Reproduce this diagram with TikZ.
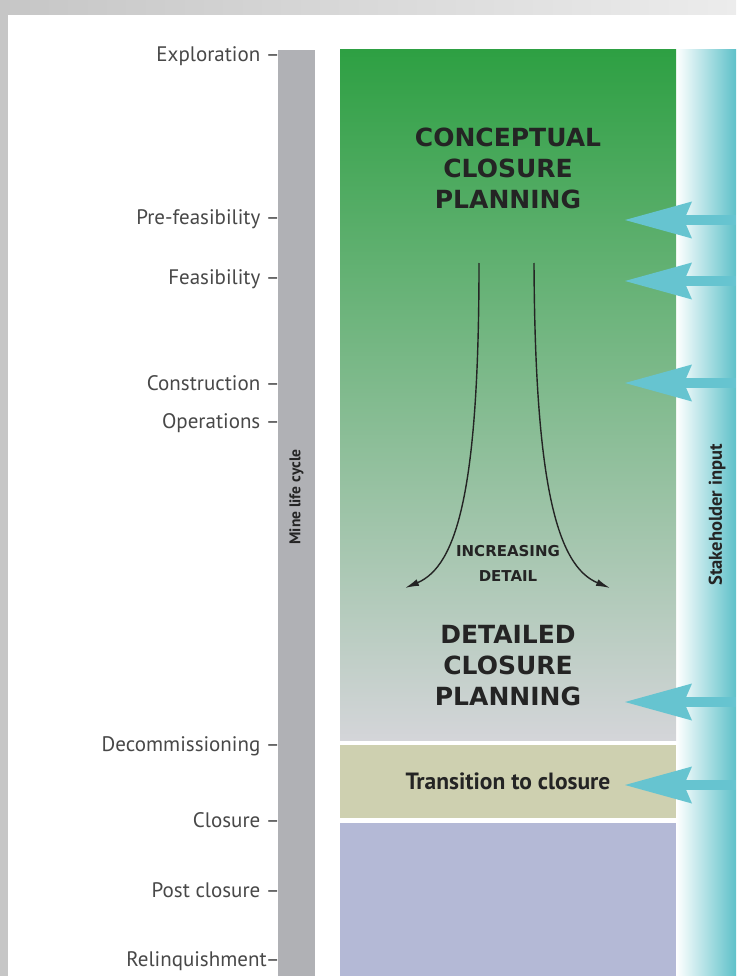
\documentclass[tikz,border=0pt]{standalone}
\usepackage{fontspec}
\setmainfont{PT Sans}
\newfontfamily\capsfont{DejaVu Sans}
\usetikzlibrary{positioning, arrows.meta}

\definecolor{framegrey}{RGB}{198,198,198}
\definecolor{framelight}{RGB}{236,236,236}
\definecolor{barcol}{RGB}{176,177,181}
\definecolor{greentop}{RGB}{46,160,67}
\definecolor{greenmid}{RGB}{146,188,144}
\definecolor{planbot}{RGB}{212,213,217}
\definecolor{transcol}{RGB}{206,208,176}
\definecolor{postcol}{RGB}{180,185,214}
\definecolor{tealside}{RGB}{94,193,201}
\definecolor{inflow}{RGB}{102,196,208}
\definecolor{labelgrey}{RGB}{72,72,72}
\definecolor{inkdark}{RGB}{36,36,36}

\begin{document}
\begin{tikzpicture}[x=1pt, y=-1pt,
  stage/.style={anchor=east, inner sep=0pt, text=labelgrey, font=\fontsize{21}{21}\selectfont},
  column/.style={minimum width=336pt, inner sep=0pt, outer sep=0pt, anchor=north},
  sidebar/.style={minimum height=926pt, inner sep=0pt, outer sep=0pt, anchor=north},
  sidetext/.style={rotate=90, text=inkdark, font=\bfseries\fontsize{15.5}{15.5}\selectfont},
  headtext/.style={align=center, text=inkdark, font=\capsfont\bfseries\fontsize{25}{31}\selectfont},
  detailarrow/.style={line width=1.4pt, draw=inkdark, -{Latex[length=14pt, width=7pt]}},
  inarrow/.style={line width=10pt, draw=inflow, -{Stealth[length=67pt, width=37pt, inset=8pt, line width=0pt]}}]
\useasboundingbox (0,0) rectangle (736,976);
% frame
\fill[white] (0,0) rectangle (736,976);
\shade[left color=framegrey, right color=framelight] (0,0) rectangle (736,15);
\fill[framegrey] (0,0) rectangle (8,976);

% columns
\node[sidebar, minimum width=37pt, fill=barcol] (life) at (296.5,50) {};
\node[sidebar, minimum width=60pt, left color=white, right color=tealside] (stake) at (706,50) {};
\node[column, minimum height=690pt, top color=greentop, middle color=greenmid, bottom color=planbot] (plan) at (508,50) {};
\node[column, minimum height=73pt, fill=transcol, below=5pt of plan, text=inkdark, font=\bfseries\fontsize{23.5}{23.5}\selectfont] (trans) {Transition to closure};
\node[column, minimum height=153pt, fill=postcol, below=5pt of trans] (post) {};

\node[sidetext] (lifelabel) at (296.5,497) {Mine life cycle};
\node[sidetext, font=\bfseries\fontsize{18.5}{18.5}\selectfont] (stakelabel) at (717,515) {Stakeholder input};

% stages
\foreach \y/\stagename in {56/Exploration –, 219/Pre-feasibility –, 279/Feasibility –,
  383/Construction –, 423/Operations –, 746/Decommissioning –, 820/Closure –,
  890/Post closure –, 961/Relinquishment–}
  \node[stage] at (280,\y) {\stagename};

% planning text
\node[headtext] (concept) at (508,168) {CONCEPTUAL\\CLOSURE\\PLANNING};
\node[headtext] (detailed) at (508,666) {DETAILED\\CLOSURE\\PLANNING};
\node[headtext, font=\capsfont\bfseries\fontsize{15}{25}\selectfont] (increase) at (508,563) {INCREASING\\DETAIL};

% widening arrows
\coordinate (lstart) at (479,263);
\coordinate (lend) at (405,588);
\coordinate (rstart) at (534,263);
\coordinate (rend) at (610,588);
\draw[detailarrow] (lstart) .. controls (479,490) and (457,566) .. (lend);
\draw[detailarrow] (rstart) .. controls (535,485) and (557,566) .. (rend);

% stakeholder input
\foreach \y [count=\i] in {220,281,383,702,785} {
  \coordinate (src\i) at (736,\y);
  \coordinate (tip\i) at (625,\y);
  \draw[inarrow] (src\i) -- (tip\i);
}
\end{tikzpicture}
\end{document}
